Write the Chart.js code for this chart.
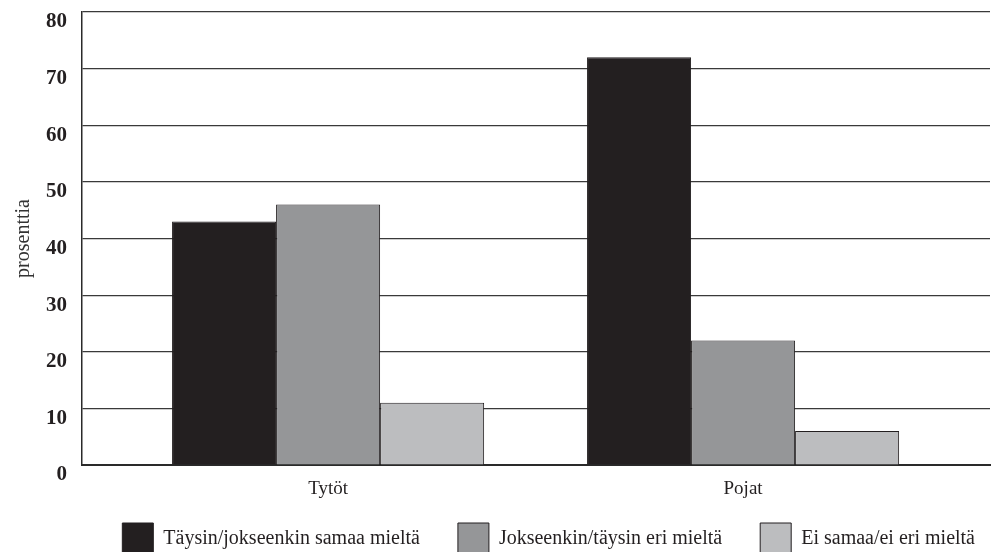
<!DOCTYPE html>
<html><head><meta charset="utf-8">
<script src="https://cdn.jsdelivr.net/npm/chart.js@4.4.0/dist/chart.umd.min.js"></script>
<style>html,body{margin:0;padding:0;background:#fff;overflow:hidden}#wrap{width:992px;height:552px;position:relative}</style>
</head><body><div id="wrap"><canvas id="c"></canvas></div>
<script>
const categories = ['Tytöt', 'Pojat'];
const seriesNames = ['Täysin/jokseenkin samaa mieltä', 'Jokseenkin/täysin eri mieltä', 'Ei samaa/ei eri mieltä'];
const agreeValues = [43, 72];
const disagreeValues = [46, 22];
const neutralValues = [11, 6];
const yTickValues = [0, 10, 20, 30, 40, 50, 60, 70, 80];
const yTitle = 'prosenttia';

const FONT = "'Liberation Serif', 'Times New Roman', serif";
const colors = ['#231f20', '#959698', '#bcbdbf'];
const seriesValues = [agreeValues, disagreeValues, neutralValues];

const legendPlacePlugin = {
  id: 'legendPlace',
  beforeInit(chart) {
    const orig = chart.legend.fit;
    chart.legend.fit = function () {
      orig.call(this);
      this.height = 52;
    };
  },
  afterLayout(chart) {
    const lg = chart.legend;
    lg.top -= 15;
    lg.left += 23; lg.right += 23;
  }
};

new Chart(document.getElementById('c'), {
  type: 'bar',
  data: {
    datasets: seriesNames.map((name, k) => ({
      label: name,
      data: seriesValues[k].map((v, i) => ({ x: i, y: v })),
      backgroundColor: colors[k],
      borderColor: '#231f20',
      borderWidth: 1,
      categoryPercentage: 0.752,
      barPercentage: 1.0
    }))
  },
  options: {
    responsive: true,
    maintainAspectRatio: false,
    animation: false,
    devicePixelRatio: 1,
    layout: { padding: { top: 12, right: 2, left: 0, bottom: 0 } },
    plugins: {
      tooltip: { enabled: false },
      legend: {
        position: 'bottom',
        align: 'end',
        labels: {
          font: { family: FONT, size: 20 },
          color: '#231f20',
          boxWidth: 31,
          boxHeight: 32,
          padding: 38
        }
      }
    },
    scales: {
      x: {
        type: 'linear',
        offset: false,
        min: -0.593,
        max: 1.595,
        afterBuildTicks(scale) { scale.ticks = categories.map((c, i) => ({ value: i })); },
        afterFit(scale) { scale.height = 35; scale.paddingLeft = 0; scale.paddingRight = 0; },
        grid: { display: true, color: 'rgba(0,0,0,0)', drawTicks: false },
        border: { display: true, color: '#2a2a2a', width: 2 },
        ticks: {
          padding: 13,
          color: '#231f20',
          font: { family: FONT, size: 19 },
          maxRotation: 0,
          callback: (v) => (Number.isInteger(v) && categories[v] !== undefined) ? categories[v] : ''
        }
      },
      y: {
        min: 0,
        max: 80,
        afterBuildTicks(scale) { scale.ticks = yTickValues.map(v => ({ value: v })); },
        afterFit(scale) { scale.width = 82; scale.paddingTop = 0; scale.paddingBottom = 0; },
        grid: { color: '#3a3a3a', lineWidth: 1.2, drawTicks: false },
        border: { display: true, color: '#2a2a2a', width: 1.5 },
        ticks: {
          padding: 15,
          labelOffset: 10,
          color: '#231f20',
          font: { family: FONT, size: 21, weight: 'bold' }
        },
        title: {
          display: true,
          text: yTitle,
          color: '#333',
          font: { family: FONT, size: 20 },
          padding: { top: 12, bottom: 0 }
        }
      }
    }
  },
  plugins: [legendPlacePlugin]
});
</script></body></html>
